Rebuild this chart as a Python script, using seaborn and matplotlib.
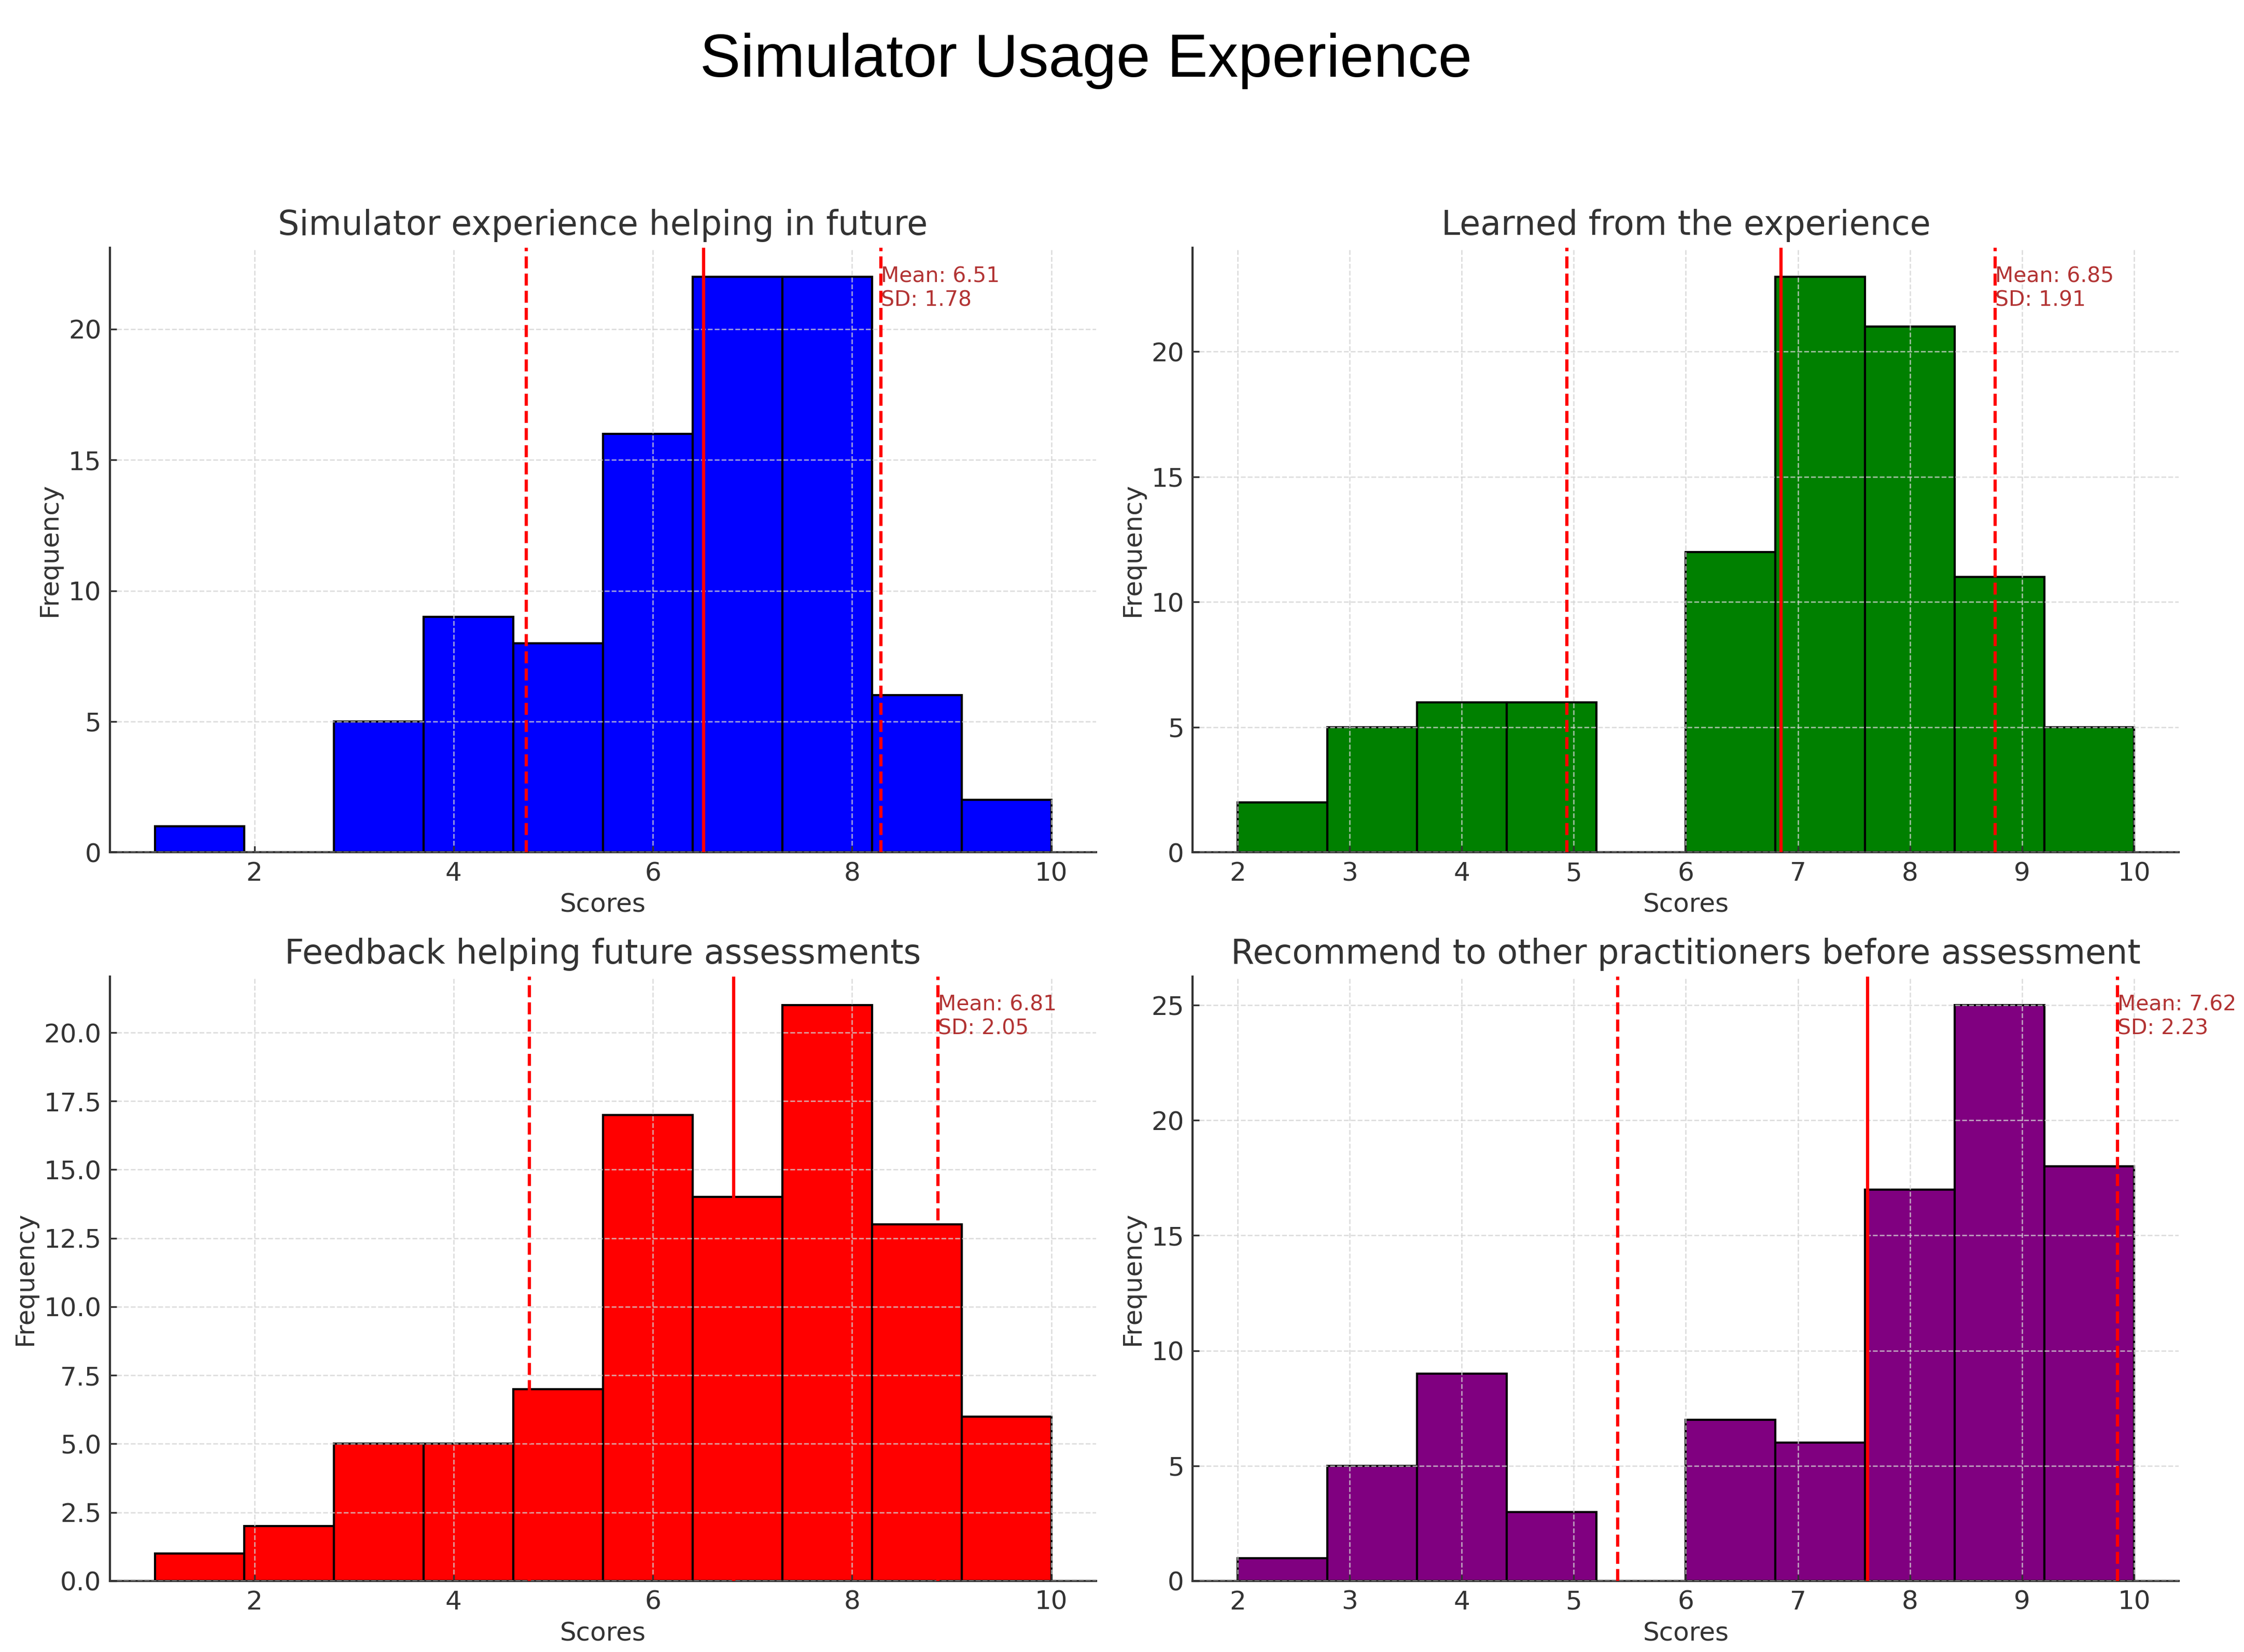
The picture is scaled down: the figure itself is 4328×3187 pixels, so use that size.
import numpy as np
import pandas as pd
import matplotlib
matplotlib.use('Agg')
import matplotlib.pyplot as plt
import matplotlib.transforms as mtransforms
import seaborn as sns

# ---- data (10 bins per panel) ----
titles = [
    'Simulator experience helping in future',
    'Learned from the experience',
    'Feedback helping future assessments',
    'Recommend to other practitioners before assessment',
]
bar_colors = ['blue', 'green', 'red', 'purple']
score_min = [1, 2, 1, 2]
score_max = [10, 10, 10, 10]
counts_future = [1, 0, 5, 9, 8, 16, 22, 22, 6, 2]
counts_learned = [2, 5, 6, 6, 0, 12, 23, 21, 11, 5]
counts_feedback = [1, 2, 5, 5, 7, 17, 14, 21, 13, 6]
counts_recommend = [1, 5, 9, 3, 0, 7, 6, 17, 25, 18]
means = [6.51, 6.85, 6.81, 7.62]
sds = [1.78, 1.91, 2.05, 2.23]
xtick_step = [2, 1, 2, 1]

all_counts = [counts_future, counts_learned, counts_feedback, counts_recommend]

sns.set_theme(style='ticks')
plt.rcParams['font.family'] = ['DejaVu Sans']
plt.rcParams['text.color'] = '#333333'
plt.rcParams['axes.labelcolor'] = '#333333'
plt.rcParams['xtick.color'] = '#333333'
plt.rcParams['ytick.color'] = '#333333'

fig, axes = plt.subplots(2, 2, figsize=(4328 / 300, 3187 / 300), dpi=300)
fig.subplots_adjust(left=0.049, right=0.971, top=0.850, bottom=0.043,
                    wspace=0.098, hspace=0.205)

for i, ax in enumerate(axes.flat):
    edges = np.linspace(score_min[i], score_max[i], len(all_counts[i]) + 1)
    centers = (edges[:-1] + edges[1:]) / 2
    df = pd.DataFrame({'score': centers, 'count': all_counts[i]})
    sns.histplot(data=df, x='score', weights='count', bins=edges.tolist(),
                 color=bar_colors[i], edgecolor='black', linewidth=1.0,
                 alpha=1, ax=ax)

    m, s = means[i], sds[i]
    ax.axvline(m, color='red', linestyle='-', linewidth=1.5, zorder=3)
    ax.axvline(m - s, color='red', linestyle='--', linewidth=1.5, zorder=3)
    ax.axvline(m + s, color='red', linestyle='--', linewidth=1.5, zorder=3)

    trans = mtransforms.blended_transform_factory(ax.transData, ax.transAxes)
    ax.text(m + s, 0.97, f'Mean: {m:.2f}\nSD: {s:.2f}', transform=trans,
            ha='left', va='top', fontsize=9.8, color='#b23333')

    ax.set_title(titles[i], fontsize=15.6, color='#333333', pad=6)
    ax.set_xlabel('Scores', fontsize=12, labelpad=3)
    ax.set_ylabel('Frequency', fontsize=12, labelpad=3)
    ax.set_xticks(np.arange(2, 11, xtick_step[i]))
    ax.tick_params(axis='both', labelsize=12, direction='in', length=3,
                   width=0.8, pad=4)

    ax.set_axisbelow(False)
    ax.grid(True, linestyle='--', linewidth=0.6, color='lightgray', alpha=0.8)
    sns.despine(ax=ax)
    for side in ['left', 'bottom']:
        ax.spines[side].set_color('#333333')
        ax.spines[side].set_linewidth(1.0)

fig.suptitle('Simulator Usage Experience', fontsize=28.2, x=0.484, y=0.963,
             va='center', family=['Liberation Sans', 'DejaVu Sans'],
             color='black')

plt.savefig('out.png', dpi=300)
plt.close()
